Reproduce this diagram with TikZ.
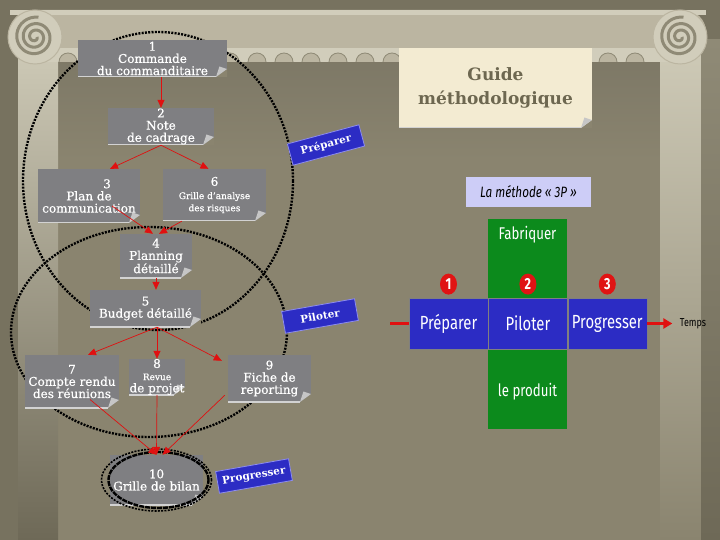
\documentclass[tikz,border=0pt]{standalone}
\usepackage{fontspec}
\setmainfont{DejaVu Serif}
\newfontfamily\docfont[FakeBold=0.6]{DejaVu Serif}
\newfontfamily\comicfont[FakeStretch=0.78]{Fira Sans}
\usetikzlibrary{arrows.meta, calc, positioning, shapes.geometric}

\definecolor{outer}{HTML}{77725F}
\definecolor{panel}{HTML}{8A846F}
\definecolor{paneltop}{HTML}{7D7866}
\definecolor{colight}{HTML}{CFCBB8}
\definecolor{coldark}{HTML}{6E6957}
\definecolor{beam}{HTML}{BBB5A1}
\definecolor{beamlight}{HTML}{D1CDBB}
\definecolor{beamdark}{HTML}{8F8A76}
\definecolor{docgray}{HTML}{7F7F82}
\definecolor{edgegray}{HTML}{D2D2D2}
\definecolor{foldgray}{HTML}{C6C6C6}
\definecolor{tabblue}{HTML}{2C2CC4}
\definecolor{tabedge}{HTML}{8C8CF0}
\definecolor{fabgreen}{HTML}{0C8A1C}
\definecolor{numred}{HTML}{E01414}
\definecolor{arrred}{HTML}{E01010}
\definecolor{lavender}{HTML}{CDCDF7}
\definecolor{guidebg}{HTML}{F3EBD2}
\definecolor{guidetext}{HTML}{6D6750}

\begin{document}
\begin{tikzpicture}[x=1pt, y=-1pt,
    fold/.style={path picture={
        \coordinate (se) at (path picture bounding box.south east);
        \coordinate (sw) at (path picture bounding box.south west);
        \draw[edgegray, line width=2pt] (sw) -- ($(se)+(-11pt,0pt)$);
        \fill[panel] (se) -- ++(-11pt,0pt) -- ++(11pt,8pt) -- cycle;
        \fill[foldgray] ($(se)+(-11pt,0pt)$) -- ++(11pt,8pt) -- ++(-7.6pt,2.5pt) -- cycle;}},
    doc/.style={fill=docgray, text=white, align=center, inner sep=0pt,
        font=\docfont\fontsize{12}{12.2}\selectfont, fold},
    small/.style={font=\bfseries\fontsize{8.5}{9}\selectfont},
    tab/.style={fill=tabblue, draw=tabedge, line width=0.8pt, text=white,
        font=\bfseries\fontsize{10.5}{10.5}\selectfont, minimum width=74,
        minimum height=22, inner sep=0pt, rotate=#1},
    arr/.style={draw=arrred, line width=0.7pt, -{Triangle[length=8pt,width=7pt]}},
    halo/.style={draw=black, line width=2.4pt, dash pattern=on 2pt off 1.3pt},
    phase/.style={fill=tabblue, draw=black!50, line width=0.4pt, text=white,
        minimum width=79, minimum height=51, inner sep=0pt,
        font=\comicfont\fontsize{19}{19}\selectfont},
    num/.style={ellipse, fill=numred, text=white, inner sep=0pt, minimum width=17,
        minimum height=21, font=\comicfont\bfseries\fontsize{16}{16}\selectfont},
    comic/.style={text=white, font=\comicfont\fontsize{17}{17}\selectfont},
    redline/.style={draw=arrred, line width=2.5pt}]

\useasboundingbox (0,0) rectangle (720,540);

% background and frame
\fill[outer] (0,0) rectangle (720,540);
\shade[top color=paneltop, bottom color=panel] (55,58) rectangle (702,160);
\fill[panel] (55,160) rectangle (702,540);
\shade[top color=colight, bottom color=coldark] (18,40) rectangle (58,540);
\shade[top color=colight, bottom color=panel] (660,40) rectangle (701,540);
\shade[top color=beamdark, bottom color=coldark] (701,40) rectangle (720,540);
\fill[beam, rounded corners=22pt] (10,10) rectangle (706,62);
\fill[beamlight] (10,10) rectangle (706,15);
\fill[beamlight] (45,48) rectangle (690,62);
\foreach \x in {68,95,...,650}
    \filldraw[fill=beam, draw=beamdark, line width=0.8pt] (\x-9,62) arc[start angle=180, end angle=0, radius=9pt];
\foreach \cx in {35,680} {
    \filldraw[fill=beamlight, draw=beam, line width=1pt] (\cx,37) circle[radius=27pt];
    \draw[beamdark, line width=3pt] plot[smooth, domain=0:1000, samples=90, variable=\t]
        ({\cx+(2+\t/360*6.5)*cos(\t)}, {37+(2+\t/360*6.5)*sin(\t)});
}

% regroupements
\draw[halo] (158,181) ellipse [x radius=135pt, y radius=149pt];
\draw[halo] (149,332) ellipse [x radius=138pt, y radius=105pt];

% fiches
\node[doc, minimum width=149, minimum height=37] (b1) at (152.5,58.5) {1\\Commande\\du commanditaire};
\node[doc, minimum width=106, minimum height=37] (b2) at (161,126.5) {2\\Note\\de cadrage};
\node[doc, minimum width=102, minimum height=54] (b3) at (89,196) {\hspace*{3em}3\\Plan de\\communication};
\node[doc, minimum width=103, minimum height=52] (b6) at (214.5,195) {6\\[1pt]{\small Grille d’analyse}\\{\small des risques}};
\node[doc, minimum width=72, minimum height=44] (b4) at (156,256) {4\\Planning\\détaillé};
\node[doc, minimum width=111, minimum height=37] (b5) at (145.5,308.5) {5\\Budget détaillé};
\node[doc, minimum width=94, minimum height=53] (b7) at (72,381.5) {7\\Compte rendu\\des réunions};
\node[doc, minimum width=56, minimum height=36] (b8) at (157,377) {8\\{\small Revue}\\de projet};
\node[doc, minimum width=83, minimum height=47] (b9) at (269.5,378.5) {9\\Fiche de\\reporting};
\node[doc, minimum width=93, minimum height=50] (b10) at (156.5,480) {10\\Grille de bilan};
\draw[halo, line width=1.6pt] (b10.center) ellipse [x radius=55pt, y radius=31pt];
\draw[black, line width=2.4pt, dash pattern=on 5pt off 1pt] ([xshift=2pt]b10.center) ellipse [x radius=50pt, y radius=28pt];

% liens
\coordinate (hub) at ($(b5.south)+(11.5,0)$);
\draw[arr] (b2.north |- b1.south) -- (b2.north);
\draw[arr] (b2.south) -- ($(b3.north)+(21,0)$);
\draw[arr] (b2.south) -- ($(b6.north)+(-6,0)$);
\draw[arr] ($(b3.center)+(23,10)$) -- ($(b4.north)+(-3,0)$);
\draw[arr] ($(b6.south west)+(19,0)$) -- ($(b4.north)+(3,0)$);
\draw[arr] (b4.south) -- (b4.south |- b5.north);
\draw[arr] (hub) -- ($(b7.north)+(16,0)$);
\draw[arr] (hub) -- (b8.north);
\draw[arr] (hub) -- ($(b9.north west)+(-6,6)$);
\draw[arr] ($(b7.center)+(18,18)$) -- (b10.north);
\draw[arr] (b8.south) -- (b10.north);
\draw[arr] ($(b9.south west)+(-3,-7)$) -- ($(b10.north)+(6,0)$);

% phases
\node[tab=15] (tprep) at (326,145) {Préparer};
\node[tab=10] (tpilo) at (320,316) {Piloter};
\node[tab=10] (tprog) at (254,476) {Progresser};

% titre
\node[fill=guidebg, text=guidetext, align=center, minimum width=193, minimum height=80,
    inner sep=0pt, font=\bfseries\fontsize{17}{24}\selectfont, fold] (guide) at (495.5,88)
    {Guide\\méthodologique};

% methode 3P
\node[fill=lavender, minimum width=125, minimum height=30, inner sep=0pt,
    font=\comicfont\itshape\fontsize{15}{15}\selectfont] (meth) at (528.5,192) {La méthode « 3P »};
\node[fill=fabgreen, minimum width=79, minimum height=210, inner sep=0pt] (col) at (527.5,324) {};
\node[comic] (fab) at (527.5,235) {Fabriquer};
\node[comic] (prod) at (527.5,392) {le produit};
\node[phase] (prep) at (448.5,323.5) {Préparer};
\node[phase, right=0pt of prep] (pilo) {Piloter};
\node[phase, right=0pt of pilo] (prog) {Progresser};
\node[num, above=3pt of prep] (n1) {1};
\node[num, above=3pt of pilo] (n2) {2};
\node[num, above=3pt of prog] (n3) {3};
\node[font=\comicfont\fontsize{11.5}{11.5}\selectfont] (tps) at (693,323.5) {Temps};
\coordinate (debut) at (390,323.5);
\draw[redline] (debut) -- (prep.west);
\draw[redline, -{Triangle[length=9pt,width=10pt]}, shorten >=4pt] (prog.east) -- (tps.west);
\end{tikzpicture}
\end{document}
